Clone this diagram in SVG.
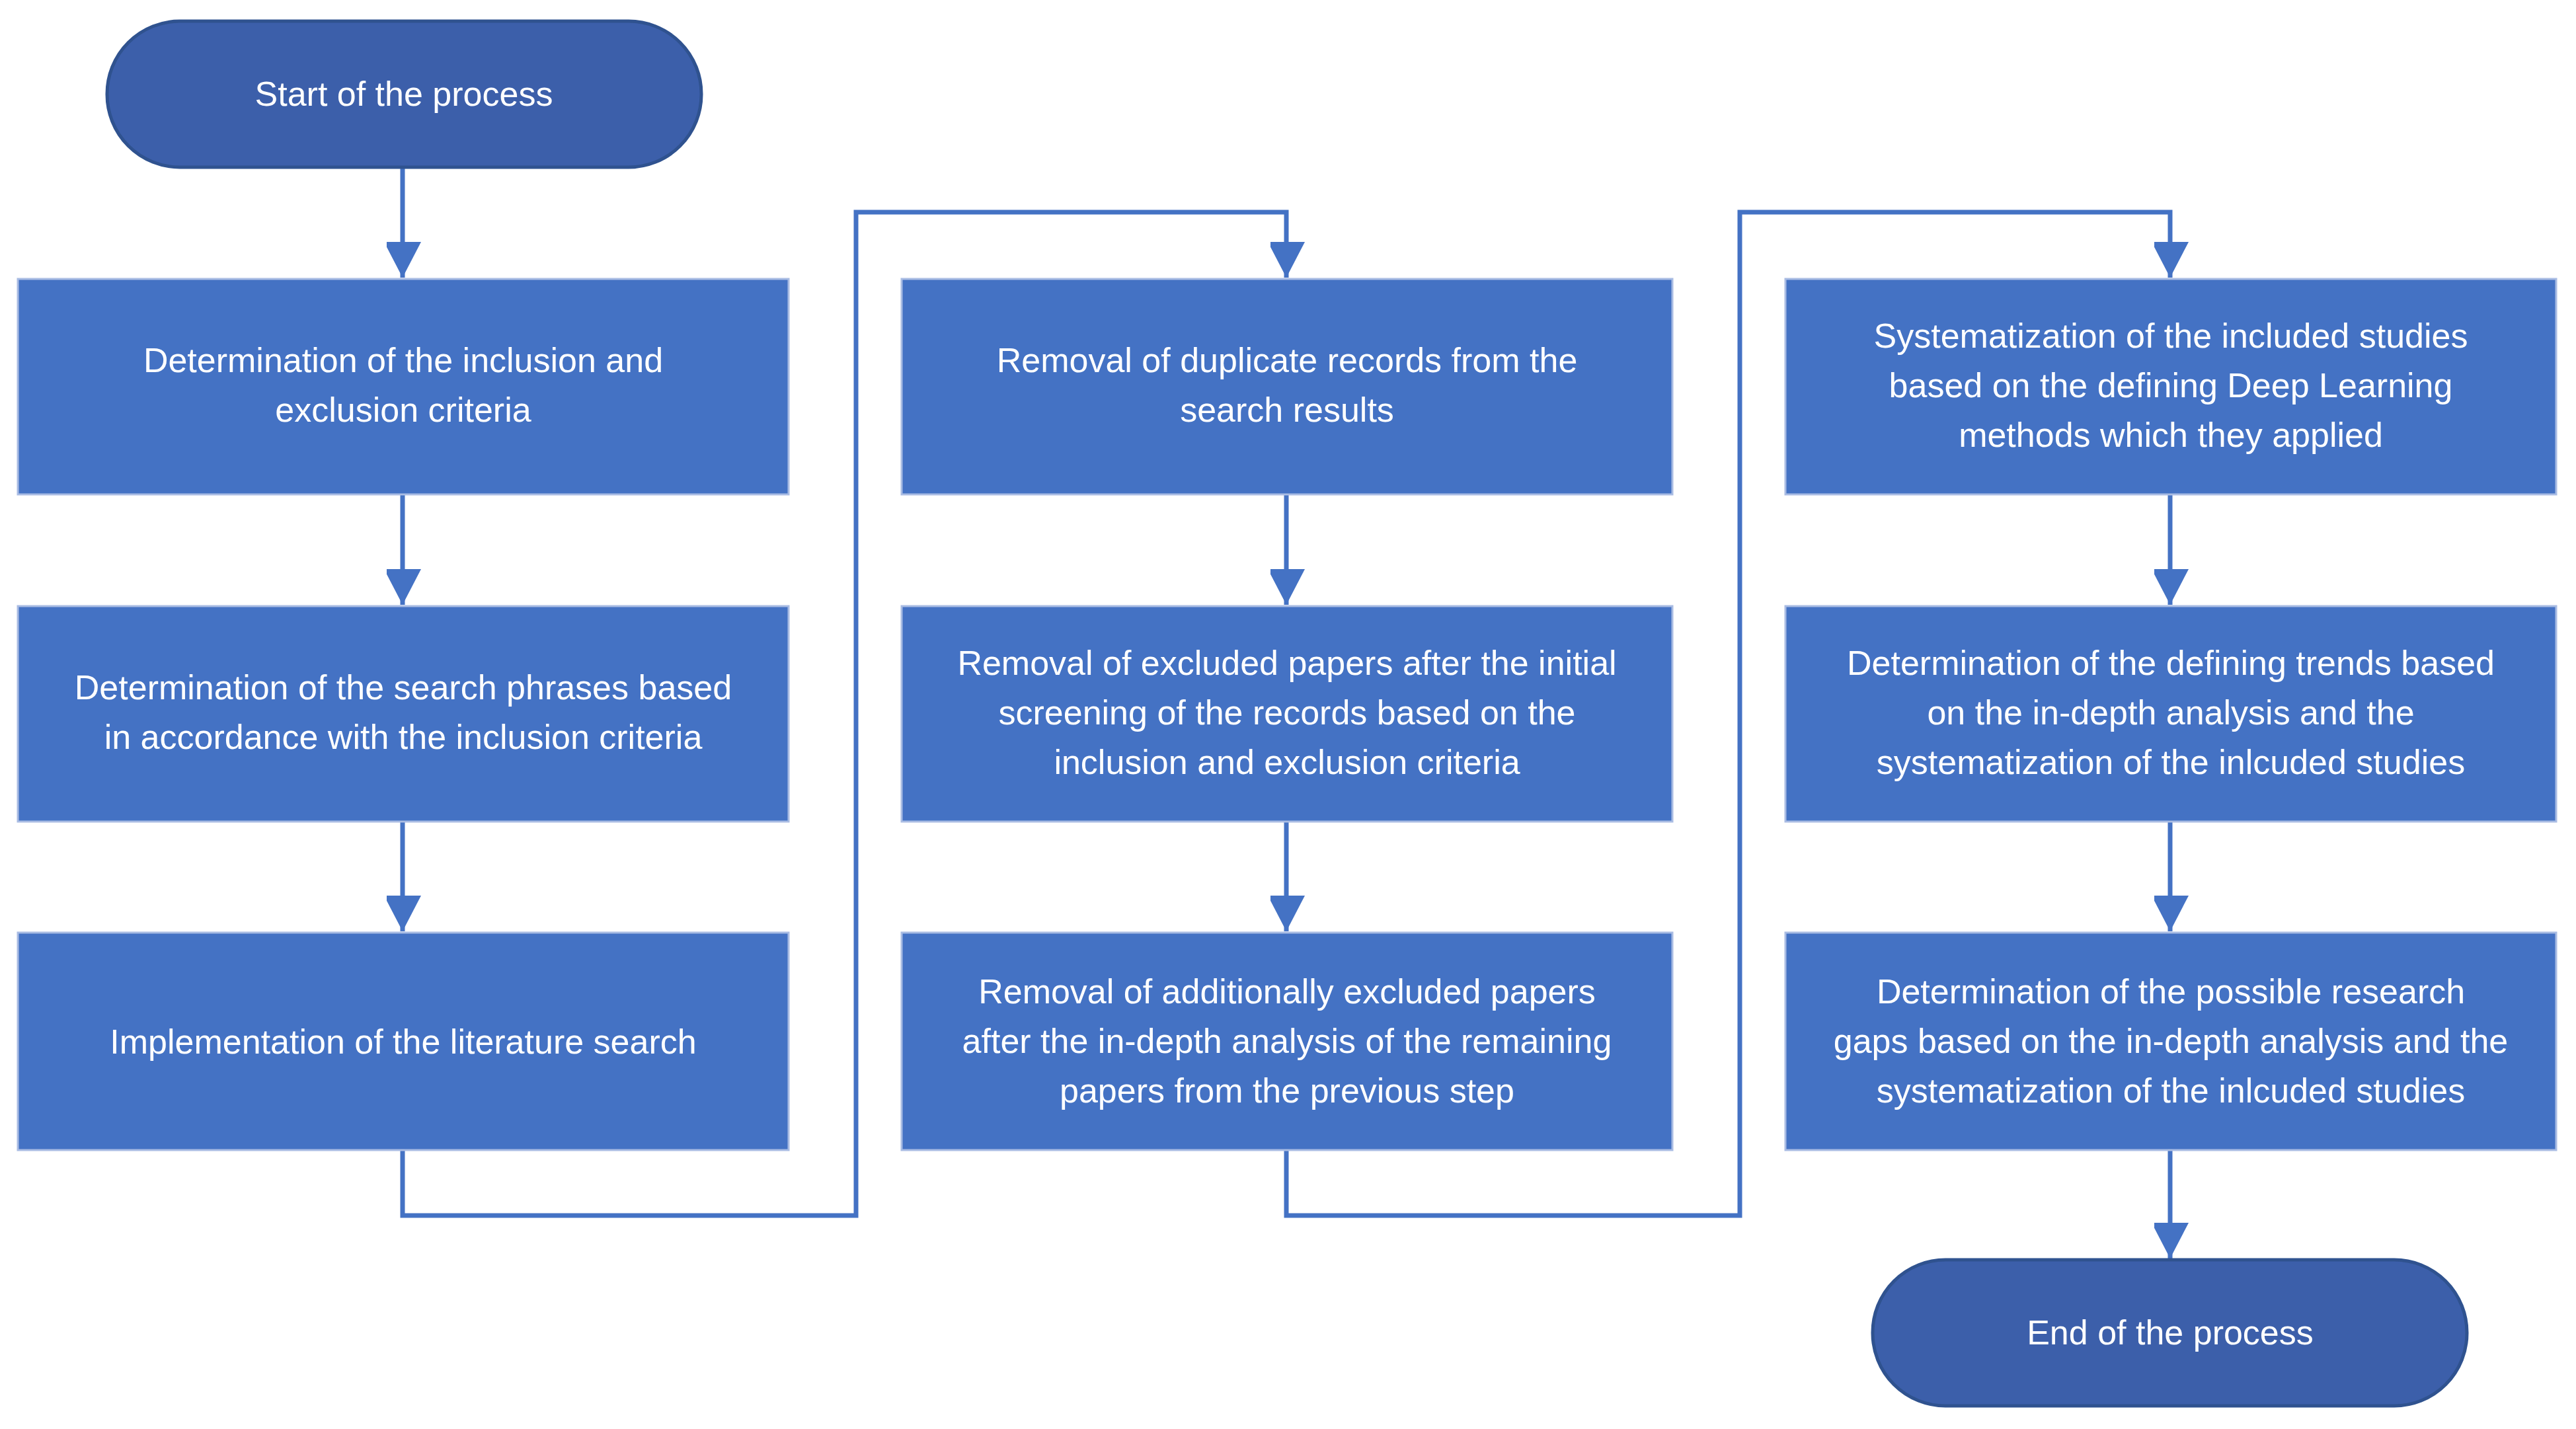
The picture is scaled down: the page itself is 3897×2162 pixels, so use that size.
<svg xmlns="http://www.w3.org/2000/svg" width="3897" height="2162" viewBox="0 0 3897 2162">
<style>
.box{fill:#4472C4;stroke:#A9BCE3;stroke-width:3}
.term{fill:#3C5FAA;stroke:#2F528F;stroke-width:5}
.t{font-family:"Liberation Sans",Arial,sans-serif;font-size:52px;fill:#fff;text-anchor:middle}
.c{fill:none;stroke:#4472C4;stroke-width:7}
</style>
<defs><marker id="a" markerUnits="userSpaceOnUse" markerWidth="56" markerHeight="52" refX="54" refY="28" orient="auto"><path d="M0,0 L54,28 L0,56 Z" fill="#4472C4"/></marker></defs>
<rect width="3897" height="2162" fill="#fff"/>
<g id="connectors">
<path class="c" marker-end="url(#a)" d="M609,253 V420"/>
<path class="c" marker-end="url(#a)" d="M609,748 V915"/>
<path class="c" marker-end="url(#a)" d="M609,1243 V1409"/>
<path class="c" marker-end="url(#a)" d="M609,1740 V1839 H1295 V321 H1946 V420"/>
<path class="c" marker-end="url(#a)" d="M1946,748 V915"/>
<path class="c" marker-end="url(#a)" d="M1946,1243 V1409"/>
<path class="c" marker-end="url(#a)" d="M1946,1740 V1839 H2632 V321 H3283 V420"/>
<path class="c" marker-end="url(#a)" d="M3283,748 V915"/>
<path class="c" marker-end="url(#a)" d="M3283,1243 V1409"/>
<path class="c" marker-end="url(#a)" d="M3283,1740 V1904"/>
</g>
<g id="start"><rect class="term" x="162" y="32" width="899" height="221" rx="110"/><text class="t" x="611" y="160">Start of the process</text></g>
<g id="n1"><rect class="box" x="27" y="422" width="1166" height="326"/><text class="t" x="610" y="563">Determination of the inclusion and</text><text class="t" x="610" y="638">exclusion criteria</text></g>
<g id="n2"><rect class="box" x="27" y="917" width="1166" height="326"/><text class="t" x="610" y="1058">Determination of the search phrases based</text><text class="t" x="610" y="1133">in accordance with the inclusion criteria</text></g>
<g id="n3"><rect class="box" x="27" y="1411" width="1166" height="329"/><text class="t" x="610" y="1594">Implementation of the literature search</text></g>
<g id="n4"><rect class="box" x="1364" y="422" width="1166" height="326"/><text class="t" x="1947" y="563">Removal of duplicate records from the</text><text class="t" x="1947" y="638">search results</text></g>
<g id="n5"><rect class="box" x="1364" y="917" width="1166" height="326"/><text class="t" x="1947" y="1021">Removal of excluded papers after the initial</text><text class="t" x="1947" y="1096">screening of the records based on the</text><text class="t" x="1947" y="1171">inclusion and exclusion criteria</text></g>
<g id="n6"><rect class="box" x="1364" y="1411" width="1166" height="329"/><text class="t" x="1947" y="1518">Removal of additionally excluded papers</text><text class="t" x="1947" y="1593">after the in-depth analysis of the remaining</text><text class="t" x="1947" y="1668">papers from the previous step</text></g>
<g id="n7"><rect class="box" x="2701" y="422" width="1166" height="326"/><text class="t" x="3284" y="526">Systematization of the included studies</text><text class="t" x="3284" y="601">based on the defining Deep Learning</text><text class="t" x="3284" y="676">methods which they applied</text></g>
<g id="n8"><rect class="box" x="2701" y="917" width="1166" height="326"/><text class="t" x="3284" y="1021">Determination of the defining trends based</text><text class="t" x="3284" y="1096">on the in-depth analysis and the</text><text class="t" x="3284" y="1171">systematization of the inlcuded studies</text></g>
<g id="n9"><rect class="box" x="2701" y="1411" width="1166" height="329"/><text class="t" x="3284" y="1518">Determination of the possible research</text><text class="t" x="3284" y="1593">gaps based on the in-depth analysis and the</text><text class="t" x="3284" y="1668">systematization of the inlcuded studies</text></g>
<g id="end"><rect class="term" x="2833" y="1906" width="899" height="221" rx="110"/><text class="t" x="3283" y="2034">End  of the process</text></g>
</svg>
